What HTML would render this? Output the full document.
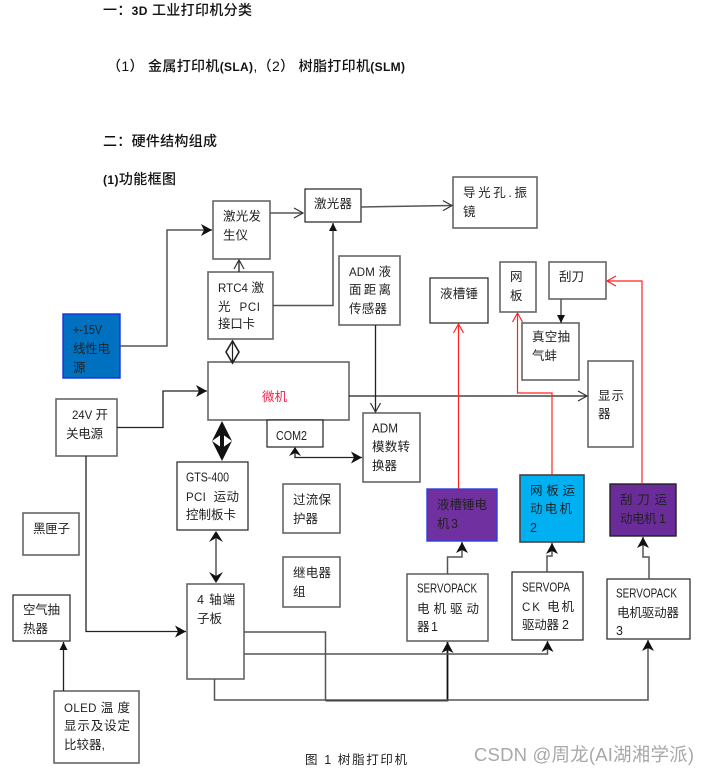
<!DOCTYPE html>
<html><head><meta charset="utf-8">
<style>
html,body{margin:0;padding:0;background:#fff;width:708px;height:775px;overflow:hidden}
svg{display:block}
text{font-family:"Liberation Sans","Noto Sans CJK SC",sans-serif;font-size:12.5px;fill:#222}
.n{font-size:11.5px}
.c{font-size:12.5px}
text.h{font-family:"Liberation Sans","Noto Sans CJK SC",sans-serif;font-weight:500;font-size:14px;fill:#111}
.hl{font-weight:700;font-size:12px}
.b{fill:#fff;stroke:#666;stroke-width:1.6}
.k{fill:#fff;stroke:#222;stroke-width:1.2}
.l{fill:none;stroke:#222;stroke-width:1.3}
.g{fill:none;stroke:#555;stroke-width:1.5}
.r{fill:none;stroke:#f22;stroke-width:1.2}
</style></head><body>
<svg width="708" height="775" viewBox="0 0 708 775" xmlns="http://www.w3.org/2000/svg">
<defs>
<marker id="o" markerUnits="userSpaceOnUse" markerWidth="12" markerHeight="12" refX="10" refY="6" orient="auto"><path d="M1 1L10 6L1 11" fill="none" stroke="#333" stroke-width="1.2"/></marker>
<marker id="or" markerUnits="userSpaceOnUse" markerWidth="12" markerHeight="12" refX="10" refY="6" orient="auto"><path d="M1 1L10 6L1 11" fill="none" stroke="#f22" stroke-width="1.2"/></marker>
<marker id="s" markerUnits="userSpaceOnUse" markerWidth="14" markerHeight="14" refX="12" refY="7" orient="auto"><path d="M1 1L12 7L1 13L4 7Z" fill="#111"/></marker>
<marker id="m" markerUnits="userSpaceOnUse" markerWidth="10" markerHeight="10" refX="9" refY="5" orient="auto"><path d="M1 1L9 5L1 9Z" fill="#111"/></marker>
</defs>

<text class="h" x="103" y="15" textLength="149">一：<tspan class="hl">3D</tspan> 工业打印机分类</text>
<text class="h" x="107" y="71" textLength="298">（1） 金属打印机<tspan class="hl">(SLA)</tspan>,（2） 树脂打印机<tspan class="hl">(SLM)</tspan></text>
<text class="h" x="103" y="146" textLength="114">二：硬件结构组成</text>
<text class="h" x="103" y="184" textLength="73"><tspan class="hl">(1)</tspan>功能框图</text>

<!-- boxes -->
<rect class="b" x="213" y="201" width="57" height="58"/>
<rect class="k" x="305" y="189" width="56" height="33"/>
<rect class="b" x="453" y="177" width="84" height="51"/>
<rect class="b" x="208" y="272" width="65" height="67"/>
<rect class="b" x="339" y="256" width="61" height="69"/>
<rect class="k" x="430" y="278" width="58" height="45"/>
<rect class="b" x="500" y="262" width="36" height="50"/>
<rect class="b" x="549" y="262" width="57" height="37"/>
<rect class="b" x="522" y="323" width="57" height="57"/>
<rect class="b" x="588" y="361" width="45" height="86"/>
<rect x="63" y="314" width="57" height="64" fill="#0070c0" stroke="#1a2fe0" stroke-width="1.4"/>
<rect class="b" x="208" y="362" width="141" height="58"/>
<rect class="b" x="56" y="399" width="61" height="57"/>
<rect class="k" x="267" y="420" width="56" height="27"/>
<rect class="b" x="363" y="413" width="57" height="69"/>
<rect class="k" x="177" y="462" width="71" height="68"/>
<rect class="b" x="283" y="484" width="57" height="49"/>
<rect class="b" x="283" y="557" width="57" height="50"/>
<rect class="b" x="23" y="513" width="56" height="42"/>
<rect class="k" x="13" y="595" width="57" height="46"/>
<rect class="b" x="187" y="584" width="57" height="95"/>
<rect class="b" x="54" y="691" width="85" height="72"/>
<rect x="427" y="489" width="70" height="52" fill="#7030a0" stroke="#2a3fe0" stroke-width="1.4"/>
<rect x="520" y="475" width="64" height="67" fill="#00b0f0" stroke="#444" stroke-width="1.6"/>
<rect x="610" y="484" width="66" height="52" fill="#6a2c98" stroke="#222" stroke-width="1.4"/>
<rect class="b" x="407" y="574" width="81" height="67"/>
<rect class="k" x="512" y="572" width="71" height="68"/>
<rect class="k" x="607" y="579" width="83" height="60"/>

<!-- connectors -->
<path class="g" d="M120 346H167V230H212" marker-end="url(#s)"/>
<path class="g" d="M270 213H303" marker-end="url(#o)"/>
<path class="g" d="M361 207L452 205.5" marker-end="url(#o)"/>
<path class="l" d="M239 272V260" marker-end="url(#o)"/>
<path class="g" d="M273 305.5H333V223" marker-end="url(#m)"/>
<path d="M232.5 341L226 352L232.5 363L239 352Z" fill="none" stroke="#222" stroke-width="1.6"/>
<path d="M232.5 341V363" stroke="#222" stroke-width="1.2"/>
<path class="l" d="M117 427.5H163V391H207" marker-end="url(#s)"/>
<path d="M222 425V456" stroke="#111" stroke-width="4"/>
<path d="M222 421L232 441L222 434L212 441Z" fill="#111"/>
<path d="M222 461L232 441L222 448L212 441Z" fill="#111"/>
<path class="l" d="M295 448V457.5H362" marker-end="url(#s)"/>
<path d="M295 447L289 456L295 453L301 456Z" fill="#111"/>
<path class="l" d="M375.5 325V412" marker-end="url(#o)"/>
<path class="l" d="M349 396H587" marker-end="url(#o)"/>
<path class="r" stroke-width="1.5" d="M458.5 489V324" marker-end="url(#or)"/>
<path class="r" d="M552 475V393H517.5V313" marker-end="url(#or)"/>
<path class="r" d="M642 484V281H607" marker-end="url(#or)"/>
<path class="g" d="M561 299V323" marker-end="url(#m)"/>
<path class="g" d="M216 535V579"/>
<path d="M216 531L223 542L216 538L209 542Z" fill="#111"/>
<path d="M216 583L223 572L216 576L209 572Z" fill="#111"/>
<path class="l" d="M86 456V631.5H186" marker-end="url(#s)"/>
<path class="l" d="M63.5 691V642" marker-end="url(#m)"/>
<path class="g" d="M244 632H325.5V700"/>
<path d="M325.5 700.5H447.5V642" fill="none" stroke="#111" stroke-width="1.8" marker-end="url(#s)"/>
<path class="g" d="M244 654H547.5V641" marker-end="url(#s)"/>
<path class="g" d="M214.5 679V700H648V640" marker-end="url(#s)"/>
<path class="g" d="M447.5 574V557H462V542" marker-end="url(#s)"/>
<path class="g" d="M547 572V556H552V543" marker-end="url(#s)"/>
<path class="g" d="M649 579V557H643V537" marker-end="url(#s)"/>

<!-- labels -->
<text x="223" y="220.5" textLength="38">激光发</text>
<text x="223" y="239.5" textLength="25">生仪</text>
<text x="314" y="208" textLength="38">激光器</text>
<text x="463" y="197" textLength="64">导光孔.振</text>
<text x="463" y="216">镜</text>
<text x="218" y="292" textLength="46"><tspan class="n">RTC4</tspan> 激</text>
<text x="218" y="311" textLength="42" xml:space="preserve">光  <tspan class="n">PCI</tspan></text>
<text x="218" y="328" textLength="37">接口卡</text>
<text x="349" y="276" textLength="42"><tspan class="n">ADM</tspan> 液</text>
<text x="349" y="294" textLength="42">面距离</text>
<text x="349" y="313" textLength="38">传感器</text>
<text x="440" y="298" textLength="38">液槽锤</text>
<text x="510" y="281">网</text>
<text x="510" y="300">板</text>
<text x="559" y="281" textLength="25">刮刀</text>
<text x="532" y="341" textLength="38">真空抽</text>
<text x="532" y="360" textLength="25">气蚌</text>
<text x="598" y="400" textLength="26">显示</text>
<text x="598" y="418">器</text>
<text x="73" y="334" textLength="29" lengthAdjust="spacingAndGlyphs" class="c">+-15V</text>
<text x="73" y="353" textLength="37">线性电</text>
<text x="73" y="372">源</text>
<text x="262" y="401" textLength="25" style="fill:#f0204a">微机</text>
<text x="72" y="419" textLength="36"><tspan class="n">24V</tspan> 开</text>
<text x="66" y="438" textLength="37">关电源</text>
<text x="276" y="440" textLength="31" lengthAdjust="spacingAndGlyphs" class="c">COM2</text>
<text x="372" y="432.5" textLength="26" lengthAdjust="spacingAndGlyphs" class="c">ADM</text>
<text x="372" y="451" textLength="38">模数转</text>
<text x="372" y="470" textLength="25">换器</text>
<text x="186" y="481.5" textLength="43" lengthAdjust="spacingAndGlyphs" class="c">GTS-400</text>
<text x="186" y="501" textLength="53" xml:space="preserve"><tspan class="n">PCI</tspan>  运动</text>
<text x="186" y="519" textLength="50">控制板卡</text>
<text x="293" y="504" textLength="38">过流保</text>
<text x="293" y="523" textLength="25">护器</text>
<text x="293" y="577" textLength="38">继电器</text>
<text x="293" y="596">组</text>
<text x="33" y="533" textLength="37">黑匣子</text>
<text x="23" y="614" textLength="37">空气抽</text>
<text x="23" y="633" textLength="25">热器</text>
<text x="197" y="604" textLength="38">4 轴端</text>
<text x="197" y="623" textLength="25">子板</text>
<text x="64" y="712" textLength="66"><tspan class="n">OLED</tspan> 温 度</text>
<text x="64" y="730" textLength="66">显示及设定</text>
<text x="64" y="749" textLength="41">比较器,</text>
<text x="437" y="509" textLength="50">液槽锤电</text>
<text x="437" y="528" textLength="21">机 3</text>
<text x="530" y="495" textLength="45">网板运</text>
<text x="530" y="513" textLength="42">动电机</text>
<text x="530" y="532">2</text>
<text x="620" y="504" textLength="47">刮刀运</text>
<text x="620" y="523" textLength="46">动电机 1</text>
<text x="417" y="592.5" textLength="60" lengthAdjust="spacingAndGlyphs" class="c">SERVOPACK</text>
<text x="417" y="613" textLength="62">电机驱动</text>
<text x="417" y="631" textLength="21">器 1</text>
<text x="522" y="591.5" textLength="48" lengthAdjust="spacingAndGlyphs" class="c">SERVOPA</text>
<text x="522" y="611" textLength="52"><tspan class="n">CK</tspan> 电机</text>
<text x="522" y="629" textLength="47">驱动器 2</text>
<text x="616" y="597.5" textLength="61" lengthAdjust="spacingAndGlyphs" class="c">SERVOPACK</text>
<text x="617" y="617" textLength="62">电机驱动器</text>
<text x="616" y="635">3</text>
<text x="305" y="764" textLength="102">图 1 树脂打印机</text>
<text x="474" y="761" textLength="220" style="font-size:18.5px;fill:#a8a8a8">CSDN @周龙(AI湖湘学派)</text>
</svg>
</body></html>
